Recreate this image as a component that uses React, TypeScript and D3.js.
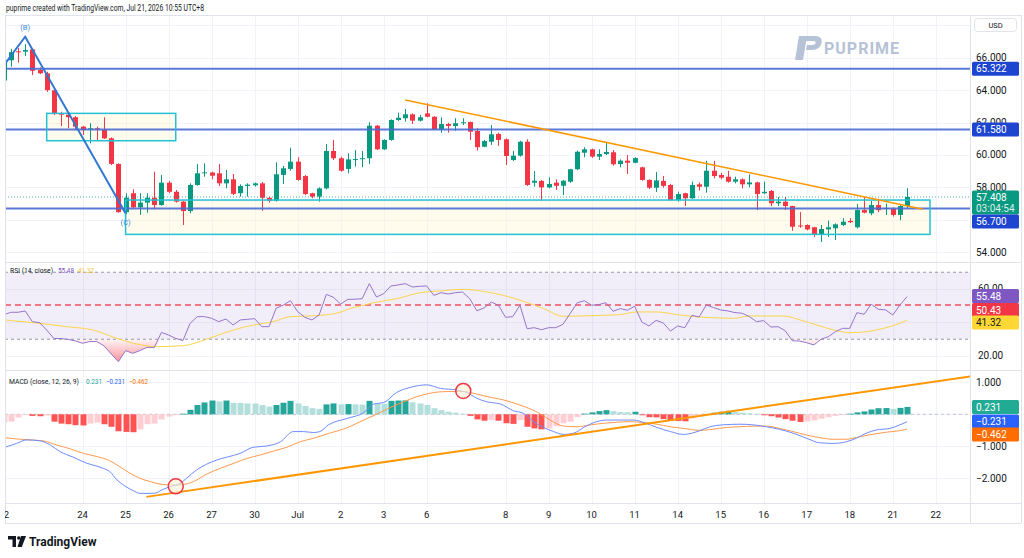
import React from 'react';
import * as d3 from 'd3';

// 4h candles, bar 1..127 : [open, high, low, close]
const ohlc: number[][] = [
  [64.6, 65.9, 64.2, 65.7], [65.85, 66.55, 65.45, 66.35], [66.4, 66.6, 65.7, 66.35], [66.38, 66.85, 66.1, 66.48],
  [66.52, 66.6, 64.94, 65.2], [65.25, 65.41, 65.0, 65.04], [65.04, 65.14, 63.9, 64.0], [64.0, 64.05, 62.47, 62.53],
  [62.55, 62.67, 61.79, 62.49], [62.49, 62.57, 61.65, 62.33], [62.33, 62.4, 61.54, 61.75], [61.75, 61.79, 61.23, 61.54],
  [61.59, 61.96, 60.72, 61.65], [61.65, 61.75, 60.88, 61.6], [61.55, 62.33, 60.99, 61.03], [61.03, 61.09, 59.38, 59.45],
  [59.45, 59.49, 56.44, 56.47], [56.47, 57.64, 56.34, 57.36], [57.64, 57.88, 56.71, 56.77], [56.77, 57.64, 56.3, 57.06],
  [57.06, 57.64, 56.44, 57.36], [57.36, 58.97, 56.65, 56.91], [56.91, 58.77, 56.87, 58.29], [58.29, 58.41, 57.64, 57.73],
  [57.73, 57.84, 57.06, 57.12], [57.12, 57.16, 55.68, 56.54], [56.54, 58.25, 56.4, 58.15], [58.15, 59.44, 58.1, 58.87],
  [58.87, 59.49, 58.66, 58.93], [58.92, 58.97, 58.5, 58.72], [58.87, 59.44, 58.09, 58.25], [58.25, 59.07, 57.94, 58.5],
  [58.5, 58.83, 57.53, 57.6], [57.64, 58.19, 57.43, 58.09], [58.09, 58.25, 57.43, 58.17], [58.13, 58.3, 58.05, 58.25],
  [58.25, 58.33, 56.56, 57.36], [57.36, 57.43, 57.06, 57.18], [57.18, 59.55, 57.12, 58.81], [58.77, 59.32, 58.21, 59.18],
  [59.14, 60.45, 59.03, 59.59], [59.59, 59.86, 58.41, 58.46], [58.7, 58.77, 57.53, 57.59], [57.64, 57.67, 57.33, 57.43],
  [57.43, 58.0, 57.12, 57.94], [57.94, 60.68, 57.88, 60.25], [60.25, 60.93, 59.69, 59.8], [59.8, 59.9, 58.97, 59.03],
  [59.14, 60.1, 58.87, 59.73], [59.7, 60.3, 59.28, 59.75], [59.76, 60.25, 59.25, 59.8], [59.8, 62.02, 59.44, 61.81],
  [61.81, 61.85, 60.31, 60.35], [60.35, 60.97, 60.31, 60.93], [60.93, 62.2, 60.88, 62.16], [62.16, 62.61, 62.1, 62.3],
  [62.27, 62.84, 62.06, 62.51], [62.51, 62.57, 61.91, 62.12], [62.12, 62.47, 62.06, 62.33], [62.57, 63.19, 62.33, 62.36],
  [62.36, 62.4, 61.54, 61.59], [61.59, 62.33, 61.38, 61.91], [61.91, 61.99, 61.38, 61.79], [61.79, 62.27, 61.5, 61.96],
  [61.97, 62.27, 61.85, 62.02], [62.04, 62.06, 60.93, 61.44], [61.48, 61.65, 60.27, 60.48], [60.51, 60.93, 60.48, 60.86],
  [60.82, 61.85, 60.62, 61.28], [61.3, 61.38, 60.56, 60.93], [60.97, 61.03, 59.38, 59.94], [59.69, 60.25, 59.63, 59.96],
  [59.96, 60.88, 59.9, 60.82], [60.82, 60.97, 58.09, 58.15], [58.29, 59.01, 58.04, 58.41], [58.4, 58.46, 57.18, 58.0],
  [58.0, 58.62, 57.94, 58.21], [58.29, 58.5, 57.84, 58.1], [58.1, 58.46, 57.53, 58.41], [58.35, 59.15, 58.29, 59.12],
  [59.12, 60.27, 59.07, 60.2], [60.14, 60.48, 59.86, 60.35], [60.35, 60.39, 59.83, 59.9], [59.9, 60.35, 59.69, 60.06],
  [60.06, 60.76, 60.0, 60.19], [60.17, 60.31, 59.34, 59.43], [59.44, 59.73, 59.24, 59.65], [59.65, 60.0, 58.83, 59.52],
  [59.52, 59.86, 59.49, 59.81], [59.24, 59.28, 58.41, 58.46], [58.46, 58.5, 57.9, 57.98], [57.98, 58.95, 57.72, 58.43],
  [58.4, 58.7, 57.98, 58.09], [58.15, 58.21, 57.18, 57.22], [57.22, 57.73, 57.12, 57.59], [57.64, 57.67, 56.85, 57.33],
  [57.33, 58.36, 57.29, 58.15], [58.19, 58.3, 57.8, 58.04], [58.04, 59.64, 57.67, 59.03], [59.03, 59.64, 58.56, 58.7],
  [58.77, 58.9, 58.5, 58.6], [58.66, 59.03, 58.29, 58.35], [58.35, 58.66, 58.25, 58.5], [58.5, 58.56, 57.94, 58.19],
  [58.19, 58.8, 58.0, 58.31], [58.31, 58.35, 56.6, 57.59], [57.64, 58.35, 57.59, 57.73], [57.78, 57.84, 56.85, 57.02],
  [57.02, 57.41, 56.85, 57.12], [57.12, 57.41, 56.6, 56.85], [56.85, 56.87, 55.32, 55.57], [55.65, 56.47, 55.5, 55.6],
  [55.68, 55.72, 55.35, 55.41], [55.54, 55.57, 54.94, 55.12], [55.12, 55.68, 54.63, 55.43], [55.41, 55.95, 54.94, 55.54],
  [55.48, 55.78, 54.75, 55.72], [55.68, 56.1, 55.6, 55.88], [55.93, 56.1, 55.8, 55.85], [55.54, 56.97, 55.47, 56.6],
  [56.6, 57.38, 56.4, 56.44], [56.4, 57.16, 56.28, 56.91], [56.91, 57.3, 56.47, 56.6], [56.68, 57.0, 56.3, 56.73],
  [56.67, 56.77, 56.2, 56.3], [56.3, 56.91, 55.97, 56.85], [56.85, 57.95, 56.72, 57.408],
];

// RSI(14) per bar
const rsi = [
  44.5, 46.1, 46.1, 46.9, 40.5, 39.9, 35.5, 30.5, 30.4, 29.9, 29.0, 27.6, 28.6, 28.6, 26.0, 21.2, 16.6, 23.2, 21.6, 23.2,
  25.2, 25.0, 34.1, 32.5, 30.5, 29.2, 39.5, 43.5, 43.5, 42.5, 40.5, 42.1, 38.5, 41.5, 41.9, 42.3, 37.5, 37.5, 48.5, 50.4,
  53.0, 46.5, 43.1, 41.5, 44.5, 56.8, 55.0, 51.0, 53.8, 53.9, 54.2, 63.2, 55.2, 57.2, 61.8, 62.4, 63.2, 61.2, 61.6, 61.8,
  56.2, 57.8, 57.0, 57.8, 58.2, 54.2, 47.0, 48.7, 52.2, 50.3, 43.1, 43.5, 50.3, 36.3, 36.9, 35.7, 36.9, 36.9, 38.9, 45.3,
  51.8, 53.0, 50.3, 50.7, 51.8, 46.7, 48.3, 47.3, 49.7, 40.3, 37.9, 41.3, 39.7, 34.9, 37.9, 36.9, 44.3, 43.3, 50.5, 48.9,
  47.5, 46.9, 45.9, 45.5, 43.5, 40.5, 41.1, 37.3, 37.5, 35.1, 29.1, 28.9, 27.9, 26.6, 30.0, 31.5, 34.5, 36.5, 36.5, 45.9,
  44.9, 50.9, 47.9, 47.5, 44.5, 50.4, 55.48,
];

// RSI-based MA : [bar, value]
const rsiMa: [number, number][] = [
  [1.2, 41.5], [5.1, 39.9], [9.8, 37.5], [13.5, 35.5], [16.8, 30.5], [19.1, 27.6], [22.3, 25.6], [26.1, 26.2],
  [29.3, 30.0], [33, 35.5], [35.8, 38.5], [38.6, 40.5], [41, 43.5], [44.7, 44.1], [47.9, 46.1], [49.3, 48.3],
  [51.2, 50.3], [52.6, 51.8], [55.8, 54.2], [59.1, 57.8], [61.9, 58.8], [65.1, 59.8], [67.9, 58.6], [70.7, 56.2],
  [73.5, 52.6], [76.3, 48.3], [79.1, 43.7], [81.9, 43.9], [84.7, 44.3], [87, 44.7], [89.3, 46.3], [92.1, 46.3],
  [94.9, 44.7], [96.8, 43.7], [99.6, 42.9], [102.8, 42.5], [105.1, 43.9], [109.8, 43.9], [112.1, 41.5],
  [114.4, 38.5], [116.8, 35.5], [119.1, 33.9], [121.4, 34.5], [123.7, 36.5], [126, 39.5], [127, 41.32],
];

// MACD histogram per bar
const macdHist = [
  -0.25, -0.23, -0.1, -0.02, -0.05, -0.06, -0.04, -0.23, -0.29, -0.31, -0.34, -0.35, -0.29, -0.26, -0.31, -0.39, -0.53,
  -0.55, -0.56, -0.47, -0.31, -0.29, -0.16, -0.07, -0.03, 0.02, 0.14, 0.29, 0.37, 0.43, 0.4, 0.43, 0.36, 0.355, 0.34,
  0.335, 0.29, 0.24, 0.29, 0.36, 0.42, 0.34, 0.26, 0.19, 0.17, 0.31, 0.34, 0.31, 0.32, 0.31, 0.3, 0.42, 0.34, 0.33,
  0.42, 0.43, 0.435, 0.375, 0.34, 0.29, 0.19, 0.13, 0.08, 0.05, 0.02, -0.05, -0.16, -0.2, -0.18, -0.2, -0.28, -0.3,
  -0.18, -0.39, -0.44, -0.47, -0.44, -0.37, -0.28, -0.23, -0.09, 0.02, 0.06, 0.1, 0.13, 0.1, 0.07, 0.065, 0.08, -0.03,
  -0.09, -0.095, -0.15, -0.2, -0.21, -0.22, -0.125, -0.07, 0.01, 0.05, 0.08, 0.11, 0.07, 0.05, 0.03, 0.02, -0.03,
  -0.06, -0.1, -0.15, -0.2, -0.24, -0.22, -0.19, -0.14, -0.09, -0.05, -0.02, 0.02, 0.06, 0.09, 0.15, 0.19, 0.195,
  0.17, 0.2, 0.231,
];

const macdLine: [number, number][] = [
  [1.2, -1.03], [2.8, -0.91], [4.2, -0.8], [6.1, -0.83], [7.5, -0.96], [8.9, -1.17], [10.7, -1.34], [12.6, -1.53],
  [14, -1.62], [14.9, -1.69], [15.8, -1.79], [16.8, -2.05], [17.9, -2.24], [19.1, -2.39], [20, -2.47], [21.9, -2.47],
  [23.3, -2.34], [24.2, -2.26], [25.6, -2.16], [26.5, -2.0], [27.9, -1.74], [29.3, -1.56], [30.7, -1.43],
  [32.1, -1.34], [34, -1.22], [35.8, -1.03], [37.7, -0.99], [39.6, -0.86], [41.4, -0.54], [42.8, -0.54],
  [44.2, -0.57], [45.1, -0.54], [46.3, -0.33], [48.9, -0.13], [51.2, 0.05], [52.6, 0.32], [54, 0.37], [55.8, 0.68],
  [57.7, 0.84], [60, 0.92], [61.9, 0.81], [64.2, 0.76], [65.6, 0.68], [67, 0.5], [68.4, 0.39], [70.3, 0.32],
  [72.1, 0.11], [73.5, 0.03], [74.9, -0.23], [76.3, -0.41], [77.7, -0.54], [79.1, -0.63], [80.5, -0.59],
  [81.9, -0.41], [83.7, -0.23], [85.1, -0.18], [87, -0.18], [88.9, -0.18], [90.3, -0.26], [92.1, -0.41], [94, -0.54],
  [95.8, -0.63], [98, -0.52], [99.5, -0.39], [101.3, -0.33], [103.7, -0.31], [105.5, -0.33], [107.4, -0.39],
  [109.2, -0.47], [111.1, -0.59], [113, -0.75], [114.8, -0.89], [116.7, -0.91], [118.5, -0.86], [119.9, -0.75],
  [121.3, -0.59], [122.7, -0.49], [124.6, -0.44], [126, -0.33], [127, -0.231],
];

const signalLine: [number, number][] = [
  [1.2, -0.73], [2.8, -0.77], [4.7, -0.8], [6.5, -0.83], [8.4, -0.96], [10.3, -1.08], [12.1, -1.22], [14, -1.32],
  [15.8, -1.45], [17.2, -1.64], [18.6, -1.84], [20, -2.0], [21.4, -2.1], [22.8, -2.18], [24.7, -2.21], [26.1, -2.19],
  [27.5, -2.1], [29.3, -1.87], [31.2, -1.69], [33.1, -1.53], [34.9, -1.38], [36.8, -1.27], [38.6, -1.15],
  [40.5, -1.03], [42.3, -0.86], [44.2, -0.75], [46.3, -0.6], [48.9, -0.42], [51.2, -0.18], [53.1, 0.01], [55, 0.22],
  [56.8, 0.39], [58.6, 0.55], [60.5, 0.66], [62.8, 0.71], [65.2, 0.71], [67, 0.63], [68.9, 0.53], [70.7, 0.45],
  [73, 0.29], [75.3, 0.08], [77.2, -0.18], [79.1, -0.37], [81, -0.39], [82.8, -0.33], [84.7, -0.28], [86.5, -0.25],
  [88.4, -0.23], [90.3, -0.26], [92.1, -0.31], [94, -0.39], [95.8, -0.44], [98, -0.5], [99.9, -0.47],
  [101.8, -0.41], [103.7, -0.39], [105.5, -0.37], [107.4, -0.37], [109.2, -0.44], [111.1, -0.54], [113, -0.65],
  [114.8, -0.73], [116.7, -0.78], [118.5, -0.78], [120.4, -0.7], [122.3, -0.62], [124.1, -0.56], [126, -0.51],
  [127, -0.462],
];

// time axis: [bar index, label]
const dayLabels: [number, string][] = [
  [1, '22'], [12, '24'], [18, '25'], [24, '26'], [30, '27'], [36, '30'], [42, 'Jul'], [48, '2'], [54, '3'], [60, '6'],
  [71, '8'], [77, '9'], [83, '10'], [89, '11'], [95, '14'], [101, '15'], [107, '16'], [113, '17'], [119, '18'],
  [125, '21'], [131, '22'],
];

const priceTicks = [54, 58, 60, 62, 64, 66];
const priceGrid = [54, 56, 58, 60, 62, 64, 66, 68];
const levels = [65.322, 61.58, 56.7];
const rsiTicks = [60, 20];
const rsiGrid = [20, 40, 60];
const macdTicks = [1, -1, -2];
const macdGrid = [1, 0, -1, -2];

// drawings: [bar, price]
const wave: [number, number][] = [[1.3, 65.7], [4, 67.3], [18, 56.4]];
const trendTop: [number, number][] = [[57, 63.4], [129.2, 56.65]];
const macdTrend: [number, number][] = [[20.9, -2.58], [136, 1.19]];
const macdMarks: [number, number][] = [[25, -2.25], [65.1, 0.73]];
const boxSmall = { b0: 7, b1: 25, p0: 62.57, p1: 60.88 };
const boxLarge = { b0: 18, b1: 130.2, p0: 57.22, p1: 55.1 };

const lastPrice = 57.408;
const lastRsi = 55.48;
const rsiMid = 50.43;
const lastRsiMa = 41.32;

const UP = '#089981';
const DN = '#f23645';
const GRID = '#f0f3fa';
const BORDER = '#e0e3eb';
const TXT = '#131722';
const FONT = 'Roboto, "Noto Sans", sans-serif';

const PL = 5;
const PR = 970;
const RIGHT = 1021;

const xb = d3.scaleLinear().domain([0, 131]).range([-3.5, -3.5 + 131 * 7.17]);
const py = d3.scaleLinear().domain([53.395, 68.642]).range([262, 15]);
const ry = d3.scaleLinear().domain([11.64, 75.52]).range([370, 263]);
const my = d3.scaleLinear().domain([-2.834, 1.384]).range([505, 370]);

const fmt = (v: number, d: number) => (v < 0 ? '\u2212' : '') + Math.abs(v).toFixed(d);

const Tag = ({ y, text, bg, fg = '#fff' }: { y: number; text: string; bg: string; fg?: string }) => (
  <g>
    <rect x={972} y={y - 7} width={47} height={14} fill={bg} rx={1.5} />
    <text x={976} y={y} dy="0.35em" fill={fg} fontSize={10}>{text}</text>
  </g>
);

export default function App() {
  const rsiPath = d3.line<number>().x((_, k) => xb(k + 1)).y((v) => ry(v))(rsi) || '';
  const osArea = d3.area<number>().x((_, k) => xb(k + 1)).y0(ry(30)).y1((v) => ry(Math.min(v, 30)))(rsi) || '';
  const maPath = d3.line<[number, number]>().curve(d3.curveMonotoneX).x((d) => xb(d[0])).y((d) => ry(d[1]))(rsiMa) || '';
  const mPath = d3.line<[number, number]>().curve(d3.curveMonotoneX).x((d) => xb(d[0])).y((d) => my(d[1]))(macdLine) || '';
  const sPath = d3.line<[number, number]>().curve(d3.curveMonotoneX).x((d) => xb(d[0])).y((d) => my(d[1]))(signalLine) || '';
  const wavePath = d3.line<[number, number]>().x((d) => xb(d[0])).y((d) => py(d[1]))(wave) || '';

  const histColor = (k: number) => {
    const v = macdHist[k];
    const prev = k > 0 ? macdHist[k - 1] : v;
    if (v >= 0) return prev < v ? '#26a69a' : '#b2dfdb';
    return prev < v || k === 0 ? '#ffcdd2' : '#ff5252';
  };

  const vGrid = dayLabels.map(([b]) => Math.round(xb(b)) + 0.5).filter((x) => x > PL && x < PR);

  return (
    <div>
      <style>{'body{margin:0;overflow:hidden;background:#fff}'}</style>
      <svg width={1024} height={558} style={{ display: 'block', fontFamily: FONT }}>
        <defs>
          <clipPath id="cMain"><rect x={PL} y={15} width={PR - PL} height={247} /></clipPath>
          <clipPath id="cRsi"><rect x={PL} y={262} width={PR - PL} height={108} /></clipPath>
          <clipPath id="cMacd"><rect x={PL} y={370} width={PR - PL} height={133} /></clipPath>
          <clipPath id="cTime"><rect x={PL} y={503} width={PR - PL} height={20} /></clipPath>
          <linearGradient id="osFill" gradientUnits="userSpaceOnUse" x1={0} y1={ry(30)} x2={0} y2={ry(12)}>
            <stop offset="0" stopColor="#f23645" stopOpacity={0.05} />
            <stop offset="1" stopColor="#f23645" stopOpacity={0.7} />
          </linearGradient>
        </defs>
        <rect width={1024} height={558} fill="#fff" />

        <text x={6} y={11} fontSize={8.5} fill={TXT} textLength={198} lengthAdjust="spacingAndGlyphs">
          puprime created with TradingView.com, Jul 21, 2026 10:55 UTC+8
        </text>

        {/* grid */}
        {vGrid.map((x) => <line key={x} x1={x} x2={x} y1={15} y2={503} stroke={GRID} />)}
        {priceGrid.map((p) => <line key={p} x1={PL} x2={PR} y1={Math.round(py(p)) + 0.5} y2={Math.round(py(p)) + 0.5} stroke={GRID} />)}
        {rsiGrid.map((v) => <line key={v} x1={PL} x2={PR} y1={Math.round(ry(v)) + 0.5} y2={Math.round(ry(v)) + 0.5} stroke={GRID} />)}
        {macdGrid.map((v) => <line key={v} x1={PL} x2={PR} y1={Math.round(my(v)) + 0.5} y2={Math.round(my(v)) + 0.5} stroke={GRID} />)}

        {/* price pane */}
        <g clipPath="url(#cMain)">
          {[boxSmall, boxLarge].map((b, k) => (
            <rect key={k} x={xb(b.b0)} y={py(b.p0)} width={xb(b.b1) - xb(b.b0)} height={py(b.p1) - py(b.p0)}
              fill="#fff4cc" fillOpacity={0.35} />
          ))}
          {ohlc.map(([o, h, l, c], k) => {
            const x = Math.round(xb(k + 1));
            const col = c >= o ? UP : DN;
            const yt = py(Math.max(o, c));
            const yb = py(Math.min(o, c));
            return (
              <g key={k}>
                <line x1={x + 0.5} x2={x + 0.5} y1={py(h)} y2={py(l)} stroke={col} />
                <rect x={x - 2} y={yt} width={5} height={Math.max(1, yb - yt)} fill={col} />
              </g>
            );
          })}
          {levels.map((p) => <line key={p} x1={PL} x2={PR} y1={py(p)} y2={py(p)} stroke="#4a6bd3" strokeWidth={2} opacity={0.9} />)}
          {[boxSmall, boxLarge].map((b, k) => (
            <rect key={k} x={xb(b.b0)} y={py(b.p0)} width={xb(b.b1) - xb(b.b0)} height={py(b.p1) - py(b.p0)}
              fill="none" stroke="#22c1d6" strokeWidth={1.5} />
          ))}
          <line x1={PL} x2={PR} y1={py(lastPrice)} y2={py(lastPrice)} stroke={UP} strokeDasharray="1,2" opacity={0.7} />
          <path d={wavePath} fill="none" stroke="#3179d0" strokeWidth={2} />
          <text x={xb(wave[1][0])} y={py(wave[1][1]) - 7} textAnchor="middle" fontSize={7.5} fill="#3a86d8">(B)</text>
          <text x={xb(wave[2][0])} y={py(wave[2][1]) + 12} textAnchor="middle" fontSize={7.5} fill="#3a86d8">(C)</text>
          <line x1={xb(trendTop[0][0])} y1={py(trendTop[0][1])} x2={xb(trendTop[1][0])} y2={py(trendTop[1][1])}
            stroke="#ff9800" strokeWidth={1.5} />
        </g>

        {/* watermark */}
        <g fill="#b6c2d6">
          <path d="M799,36 h8 l-4,24 h-8 z" />
          <path d="M806,36 h9 q8,0 6.5,7 q-1.5,7 -9.5,7 h-6 l1,-5 h5 q3,0 3.6,-2 q0.6,-2 -2.4,-2 h-8 z" />
          <text x={824} y={54} fontSize={16} fontWeight={700} letterSpacing={1}>PUPRIME</text>
        </g>

        {/* RSI pane */}
        <g clipPath="url(#cRsi)">
          <rect x={PL} y={ry(70)} width={PR - PL} height={ry(30) - ry(70)} fill="#7e57c2" fillOpacity={0.1} />
          <line x1={PL} x2={PR} y1={ry(70)} y2={ry(70)} stroke="#9598a1" strokeDasharray="3,3" />
          <line x1={PL} x2={PR} y1={ry(30)} y2={ry(30)} stroke="#9598a1" strokeDasharray="3,3" />
          <line x1={PL} x2={PR} y1={ry(rsiMid)} y2={ry(rsiMid)} stroke="#f23645" strokeWidth={1.5} strokeDasharray="6,4" opacity={0.85} />
          <path d={osArea} fill="url(#osFill)" />
          <path d={maPath} fill="none" stroke="#fbd54a" strokeWidth={1} />
          <path d={rsiPath} fill="none" stroke="#9575cd" strokeWidth={1} />
        </g>
        <text x={10} y={270} dy="0.35em" fontSize={7.5} fill={TXT} textLength={43} lengthAdjust="spacingAndGlyphs">RSI (14, close)</text>
        <text x={58} y={270} dy="0.35em" fontSize={7.5} fill="#7e57c2" textLength={16} lengthAdjust="spacingAndGlyphs">{lastRsi.toFixed(2)}</text>
        <text x={78} y={270} dy="0.35em" fontSize={7.5} fill="#f5c02a" textLength={16} lengthAdjust="spacingAndGlyphs">{lastRsiMa.toFixed(2)}</text>

        {/* MACD pane */}
        <g clipPath="url(#cMacd)">
          <line x1={PL} x2={PR} y1={my(0)} y2={my(0)} stroke="#9598a1" strokeDasharray="3,3" opacity={0.5} />
          {macdHist.map((v, k) => {
            const x = Math.round(xb(k + 1));
            const y0 = my(0);
            const y1 = my(v);
            return <rect key={k} x={x - 2.5} y={Math.min(y0, y1)} width={6} height={Math.max(0.8, Math.abs(y1 - y0))} fill={histColor(k)} />;
          })}
          <path d={sPath} fill="none" stroke="#ff9a4d" strokeWidth={1} />
          <path d={mPath} fill="none" stroke="#6d8cff" strokeWidth={1} />
          <line x1={xb(macdTrend[0][0])} y1={my(macdTrend[0][1])} x2={xb(macdTrend[1][0])} y2={my(macdTrend[1][1])}
            stroke="#ff9800" strokeWidth={2} />
          {macdMarks.map(([b, v], k) => (
            <circle key={k} cx={xb(b)} cy={my(v)} r={7.5} fill="#fff7d6" fillOpacity={0.6} stroke="#f23645" strokeWidth={1.5} />
          ))}
        </g>
        <text x={9} y={381} dy="0.35em" fontSize={7.5} fill={TXT} textLength={70} lengthAdjust="spacingAndGlyphs">MACD (close, 12, 26, 9)</text>
        <text x={86} y={381} dy="0.35em" fontSize={7.5} fill="#26a69a" textLength={16} lengthAdjust="spacingAndGlyphs">{fmt(macdHist[macdHist.length - 1], 3)}</text>
        <text x={106} y={381} dy="0.35em" fontSize={7.5} fill="#2962ff" textLength={19} lengthAdjust="spacingAndGlyphs">{fmt(macdLine[macdLine.length - 1][1], 3)}</text>
        <text x={129} y={381} dy="0.35em" fontSize={7.5} fill="#ff6d00" textLength={19} lengthAdjust="spacingAndGlyphs">{fmt(signalLine[signalLine.length - 1][1], 3)}</text>

        {/* frame and separators */}
        <line x1={PL + 0.5} x2={PL + 0.5} y1={15} y2={523} stroke={BORDER} />
        <line x1={PR + 0.5} x2={PR + 0.5} y1={15} y2={523} stroke={BORDER} />
        <line x1={RIGHT + 0.5} x2={RIGHT + 0.5} y1={15} y2={523} stroke={BORDER} />
        <line x1={PL} x2={RIGHT} y1={15.5} y2={15.5} stroke={BORDER} />
        <line x1={PL} x2={RIGHT} y1={262.5} y2={262.5} stroke={BORDER} />
        <line x1={PL} x2={RIGHT} y1={370.5} y2={370.5} stroke={BORDER} />
        <line x1={PL} x2={RIGHT} y1={503.5} y2={503.5} stroke={BORDER} />
        <line x1={PL} x2={RIGHT} y1={523.5} y2={523.5} stroke={BORDER} />

        {/* price axis */}
        <rect x={974.5} y={18.5} width={42} height={13} rx={3} fill="#fff" stroke={BORDER} />
        <text x={995.5} y={25} dy="0.35em" textAnchor="middle" fontSize={7.5} fill={TXT}>USD</text>
        {priceTicks.map((p) => <text key={p} x={976} y={py(p)} dy="0.35em" fontSize={10} fill={TXT}>{p.toFixed(3)}</text>)}
        {levels.slice(0, 2).map((p) => <Tag key={p} y={py(p)} text={p.toFixed(3)} bg="#1e45cf" />)}
        <g>
          <rect x={972} y={190.5} width={47} height={24} fill={UP} rx={1.5} />
          <text x={976} y={197.5} dy="0.35em" fontSize={10} fill="#fff">{lastPrice.toFixed(3)}</text>
          <text x={976} y={208} dy="0.35em" fontSize={10} fill="#fff" opacity={0.85}>03:04:54</text>
        </g>
        <Tag y={221.5} text={levels[2].toFixed(3)} bg="#1e45cf" />

        {rsiTicks.map((v) => <text key={v} x={978} y={ry(v)} dy="0.35em" fontSize={10} fill={TXT}>{v.toFixed(2)}</text>)}
        <Tag y={296} text={lastRsi.toFixed(2)} bg="#7e57c2" />
        <Tag y={310} text={rsiMid.toFixed(2)} bg="#f23645" />
        <Tag y={322.5} text={lastRsiMa.toFixed(2)} bg="#fdd835" fg={TXT} />

        {macdTicks.map((v) => <text key={v} x={976} y={my(v)} dy="0.35em" fontSize={10} fill={TXT}>{fmt(v, 3)}</text>)}
        <Tag y={407} text={fmt(macdHist[macdHist.length - 1], 3)} bg="#22ab94" />
        <Tag y={421.5} text={fmt(macdLine[macdLine.length - 1][1], 3)} bg="#2962ff" />
        <Tag y={434.5} text={fmt(signalLine[signalLine.length - 1][1], 3)} bg="#ff6d00" />

        {/* time axis */}
        <g clipPath="url(#cTime)">
          {dayLabels.map(([b, t]) => (
            <text key={b} x={xb(b)} y={514.5} dy="0.35em" textAnchor="middle" fontSize={9.5} fill={TXT}>{t}</text>
          ))}
        </g>

        {/* footer logo */}
        <g fill={TXT}>
          <path d="M8,536 h8 v11 h-3.5 v-7.5 h-4.5 z" />
          <circle cx={18.8} cy={538} r={1.8} />
          <path d="M21,536 h5 l-4.2,11 h-4.3 z" />
          <text x={29} y={546} fontSize={12} fontWeight={700}>TradingView</text>
        </g>
      </svg>
    </div>
  );
}
